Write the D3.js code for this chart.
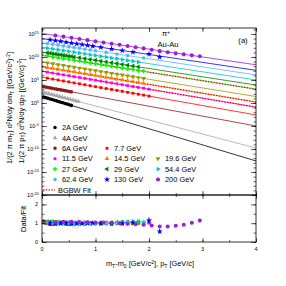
<!DOCTYPE html>
<html>
<head>
<meta charset="utf-8">
<script src="https://cdn.jsdelivr.net/npm/d3@7"></script>
<style>
body{margin:0;background:#fff}
text{font-family:"Liberation Sans",Arial,sans-serif;fill:#000}
</style>
</head>
<body>
<svg id="c" width="286" height="286"></svg>
<script>
// pi+ spectra in Au-Au, log10 of the invariant yield vs mT-m0, and data/fit below

var labels = ["2A GeV","4A GeV","6A GeV","7.7 GeV","11.5 GeV","14.5 GeV","19.6 GeV","27 GeV","29 GeV","54.4 GeV","62.4 GeV","130 GeV","200 GeV"];
var colors = ["#000000","#a6a6a6","#8b1c1c","#ff0000","#ff00ff","#ff8000","#999900","#00ff00","#008000","#00c8c8","#55b4ff","#0000ff","#9a1ed2"];

// fit lines, log10 value at mT-m0 = 0 and at 4
var fitLeft  = [1.4, 2.4, 3.6, 5.6, 6.9, 7.9, 8.9, 10.4, 11.1, 12.1, 13.1, 14.0, 15.1];
var fitRight = [-12.6, -9.8, -5.0, -2.6, -0.9, 0.2, 1.4, 3.0, 3.9, 5.0, 6.1, 7.1, 8.3];
// BGBW fits (red dotted)
var bgbwLeft  = [10.4, 7.9, 6.9];
var bgbwRight = [3.0, 0.2, -0.9];

var pt2A = [0.03,0.07,0.11,0.15,0.19,0.23,0.27,0.31,0.35,0.39,0.43,0.47,0.51,0.55];
var sp2A = [1.30,1.16,1.02,0.88,0.74,0.60,0.46,0.32,0.18,0.04,-0.10,-0.24,-0.38,-0.52];
var ra2A = [1.04,1.01,0.98,0.97,0.98,1.00,1.02,1.02,1.00,0.98,0.97,0.98,1.01,1.03];

var pt4A = [0.03,0.08,0.13,0.18,0.23,0.28,0.33,0.38,0.43,0.48,0.53,0.58,0.63,0.68];
var sp4A = [2.31,2.16,2.00,1.85,1.70,1.55,1.39,1.24,1.09,0.94,0.78,0.63,0.48,0.33];
var ra4A = [1.06,1.03,1.00,0.98,0.99,1.01,1.03,1.02,1.00,0.97,0.95,0.92,0.96,1.02];
var er4A = [0.03,0.03,0.03,0.03,0.03,0.04,0.04,0.05,0.06,0.08,0.12,0.20,0.25,0.30];

var pt6A = [0.03,0.07,0.11,0.15,0.19,0.23,0.27,0.31,0.35,0.39,0.43,0.47,0.51,0.55];
var sp6A = [3.54,3.45,3.36,3.28,3.19,3.11,3.02,2.93,2.85,2.76,2.68,2.59,2.50,2.42];
var ra6A = [1.12,1.08,1.01,0.95,0.93,0.94,0.97,1.00,1.02,1.01,0.98,0.95,0.94,0.96];

var pt77 = [0.1,0.2,0.3,0.4,0.5,0.6,0.7,0.8,0.9,1.0,1.1,1.2,1.3,1.4,1.5,1.6,1.7,1.8,1.9,2.0];
var sp77 = [5.40,5.19,4.99,4.78,4.58,4.37,4.17,3.96,3.76,3.55,3.35,3.14,2.94,2.73,2.53,2.32,2.12,1.91,1.71,1.50];
var ra77 = [1.04,1.02,0.99,1.00,1.02,1.03,1.01,0.99,1.00,1.02,1.01,0.99,0.98,1.00,1.01,1.03,1.01,0.99,0.98,1.01];

var pt115 = [0.1,0.2,0.3,0.4,0.5,0.6,0.7,0.8,0.9,1.0,1.1,1.2,1.3,1.4,1.5,1.6,1.7,1.8,1.9,2.0];
var sp115 = [6.71,6.51,6.32,6.12,5.93,5.73,5.54,5.34,5.15,4.95,4.76,4.56,4.37,4.17,3.98,3.78,3.59,3.39,3.20,3.00];
var ra115 = [1.06,1.04,1.05,1.07,1.06,1.05,1.04,1.06,1.05,1.04,1.03,1.05,1.04,1.02,1.03,1.04,1.02,1.01,1.03,1.02];

var pt145 = [0.1,0.2,0.3,0.4,0.5,0.6,0.7,0.8,0.9,1.0,1.1,1.2,1.3,1.4,1.5,1.6,1.7,1.8,1.9];
var sp145 = [7.71,7.52,7.32,7.13,6.94,6.75,6.55,6.36,6.17,5.98,5.78,5.59,5.40,5.21,5.01,4.82,4.63,4.44,4.24];
var ra145 = [1.03,1.01,1.02,1.03,1.02,1.00,1.01,1.02,1.00,0.99,1.01,1.00,0.99,1.00,1.01,0.99,0.98,1.00,1.01];

var pt196 = [0.1,0.2,0.3,0.4,0.5,0.6,0.7,0.8,0.9,1.0,1.1,1.2,1.3,1.4,1.5,1.6,1.7,1.8,1.9];
var sp196 = [8.71,8.53,8.34,8.15,7.96,7.78,7.59,7.40,7.21,7.03,6.84,6.65,6.46,6.28,6.09,5.90,5.71,5.53,5.34];
var ra196 = [1.02,1.00,0.99,1.01,1.02,1.01,1.00,0.99,1.00,1.01,1.00,0.99,1.00,1.01,1.00,0.99,1.00,1.02,1.01];

var pt27 = [0.1,0.2,0.3,0.4,0.5,0.6,0.7,0.8,0.9,1.0,1.1,1.2,1.3,1.4,1.5,1.6,1.7,1.8,1.9];
var sp27 = [10.22,10.03,9.85,9.66,9.48,9.29,9.11,8.92,8.74,8.55,8.37,8.18,8.00,7.81,7.63,7.44,7.26,7.07,6.89];
var ra27 = [1.05,1.08,1.06,1.04,1.02,1.00,0.99,1.00,1.01,1.00,0.99,0.98,1.00,1.01,1.02,1.03,1.04,1.05,1.06];

var pt29 = [0.1,0.15,0.2,0.25,0.3,0.35,0.4,0.45,0.5,0.55,0.6,0.7,0.8,0.9,1.0,1.1,1.2,1.3,1.4,1.5,1.6,1.7,1.8];
var sp29 = [10.92,10.83,10.74,10.65,10.56,10.47,10.38,10.29,10.20,10.11,10.02,9.84,9.66,9.48,9.30,9.12,8.94,8.76,8.58,8.40,8.22,8.04,7.86];
var ra29 = [1.08,1.07,1.06,1.05,1.04,1.03,1.02,1.02,1.01,1.00,1.00,0.99,0.98,0.99,1.00,1.01,1.02,1.03,1.04,1.05,1.06,1.07,1.08];

var pt544 = [0.1,0.2,0.3,0.4,0.5,0.6,0.7,0.8,0.9,1.0,1.1,1.2,1.3,1.4,1.5,1.6,1.7,1.8];
var sp544 = [11.92,11.75,11.57,11.39,11.21,11.04,10.86,10.68,10.50,10.33,10.15,9.97,9.79,9.62,9.44,9.26,9.08,8.91];
var ra544 = [1.04,1.03,1.02,1.01,1.00,1.00,1.01,1.02,1.01,1.00,0.99,1.00,1.01,1.03,1.05,1.07,1.09,1.10];

var pt624 = [0.1,0.2,0.3,0.4,0.5,0.6,0.7,0.8,0.9,1.0,1.2,1.4,1.6,1.9];
var sp624 = [12.93,12.75,12.58,12.40,12.23,12.05,11.88,11.70,11.53,11.35,11.00,10.65,10.30,9.78];
var ra624 = [1.03,1.02,1.01,1.00,1.01,1.02,1.01,1.00,0.99,1.00,1.01,1.02,1.04,1.06];

var pt130 = [0.15,0.25,0.35,0.45,0.55,0.65,0.75,0.85,0.95,1.1,1.3,1.5,1.7,2.0,2.2];
var sp130 = [13.74,13.57,13.40,13.22,13.05,12.88,12.71,12.53,12.36,12.10,11.76,11.41,11.07,10.63,9.99];
var ra130 = [1.00,0.98,0.99,1.01,1.00,0.99,0.98,1.00,1.01,0.99,0.97,0.98,1.02,1.14,0.56];
var er130 = [0.03,0.03,0.03,0.03,0.03,0.03,0.03,0.03,0.04,0.04,0.05,0.06,0.08,0.16,0.12];

var pt200 = [0.25,0.4,0.55,0.7,0.85,1.0,1.15,1.3,1.45,1.6,1.75,1.9,2.05,2.2,2.35,2.5,2.65,2.8,2.95];
var sp200 = [14.68,14.42,14.17,13.91,13.66,13.40,13.15,12.89,12.64,12.38,12.13,11.87,11.57,11.27,11.02,10.79,10.57,10.35,10.15];
var ra200 = [1.05,1.07,1.08,1.06,1.05,1.04,1.03,1.02,1.00,0.97,0.94,0.92,0.88,0.82,0.82,0.86,0.92,1.02,1.14];
var er200 = [0.03,0.03,0.03,0.03,0.03,0.03,0.03,0.03,0.03,0.03,0.03,0.04,0.04,0.04,0.05,0.05,0.06,0.08,0.10];

var majorLog = [-20,-15,-10,-5,0,5,10,15];
var xTicks = [0,1,2,3,4];
var ratioTicks = [0,1,2];

var sym = [
  {t: d3.symbolCircle, r: 0, s: 10},
  {t: d3.symbolTriangle, r: 0, s: 10},
  {t: d3.symbolCircle, r: 0, s: 10},
  {t: d3.symbolSquare, r: 0, s: 8},
  {t: d3.symbolSquare, r: 0, s: 8},
  {t: d3.symbolTriangle, r: 0, s: 10},
  {t: d3.symbolTriangle, r: 180, s: 10},
  {t: d3.symbolCross, r: 0, s: 11},
  {t: d3.symbolTriangle, r: -90, s: 10},
  {t: d3.symbolTriangle, r: 90, s: 10},
  {t: d3.symbolCircle, r: 0, s: 10},
  {t: d3.symbolStar, r: 0, s: 12},
  {t: d3.symbolCircle, r: 0, s: 13}
];

var pts = [pt2A,pt4A,pt6A,pt77,pt115,pt145,pt196,pt27,pt29,pt544,pt624,pt130,pt200];
var sps = [sp2A,sp4A,sp6A,sp77,sp115,sp145,sp196,sp27,sp29,sp544,sp624,sp130,sp200];
var ras = [ra2A,ra4A,ra6A,ra77,ra115,ra145,ra196,ra27,ra29,ra544,ra624,ra130,ra200];
var ers = [null,er4A,null,null,null,null,null,null,null,null,null,er130,er200];

var svg = d3.select('#c');
var x = d3.scaleLinear().domain([0,4]).range([42,256]);
var yTop = d3.scaleLinear().domain([-20,16.3]).range([195,28]);
var yBot = d3.scaleLinear().domain([0,2.5]).range([242,195]);

svg.append('clipPath').attr('id','clipTop').append('rect')
  .attr('x',42).attr('y',28).attr('width',214).attr('height',167);

// fit lines
var gFit = svg.append('g').attr('clip-path','url(#clipTop)');
var fitLine = d3.line().x(function(d){ return x(d[0]); }).y(function(d){ return yTop(d[1]); });
labels.forEach(function(l,i){
  gFit.append('path')
    .attr('d', fitLine([[0,fitLeft[i]],[4,fitRight[i]]]))
    .attr('fill','none').attr('stroke',colors[i]).attr('stroke-width',0.8);
});
bgbwLeft.forEach(function(v,i){
  gFit.append('path')
    .attr('d', fitLine([[0,v],[4,bgbwRight[i]]]))
    .attr('fill','none').attr('stroke','#ff0000').attr('stroke-width',1.3)
    .attr('stroke-dasharray','1.4,1.4');
});

function marker(i){
  return d3.symbol().type(sym[i].t).size(sym[i].s)();
}

// spectra points
labels.forEach(function(l,i){
  svg.append('g').selectAll('path')
    .data(pts[i].map(function(p,k){ return [p, sps[i][k]]; }))
    .enter().append('path')
    .attr('d', marker(i))
    .attr('transform', function(d){ return 'translate(' + x(d[0]) + ',' + yTop(d[1]) + ') rotate(' + sym[i].r + ')'; })
    .attr('fill', colors[i]);
});

// ratio points
labels.forEach(function(l,i){
  var d0 = pts[i].map(function(p,k){ return [p, ras[i][k], ers[i] ? ers[i][k] : 0]; });
  var g = svg.append('g');
  g.selectAll('line').data(d0.filter(function(d){ return d[2] > 0.035; }))
    .enter().append('line')
    .attr('x1', function(d){ return x(d[0]); }).attr('x2', function(d){ return x(d[0]); })
    .attr('y1', function(d){ return yBot(d[1]-d[2]); }).attr('y2', function(d){ return yBot(d[1]+d[2]); })
    .attr('stroke', i == 1 ? '#b0b0b0' : colors[i]).attr('stroke-width',0.6);
  g.selectAll('path').data(d0).enter().append('path')
    .attr('d', marker(i))
    .attr('transform', function(d){ return 'translate(' + x(d[0]) + ',' + yBot(d[1]) + ') rotate(' + sym[i].r + ')'; })
    .attr('fill', colors[i]);
});

// frames
svg.append('rect').attr('x',42).attr('y',28).attr('width',214).attr('height',167)
  .attr('fill','none').attr('stroke','#000').attr('stroke-width',0.8);
svg.append('rect').attr('x',42).attr('y',195).attr('width',214).attr('height',47)
  .attr('fill','none').attr('stroke','#000').attr('stroke-width',0.8);

function ticks(g, axis){
  g.call(axis);
  g.select('.domain').remove();
  g.selectAll('line').attr('stroke','#000').attr('stroke-width',0.6);
}

var decades = d3.range(-20,17);
// top panel y ticks
ticks(svg.append('g').attr('transform','translate(42,0)'), d3.axisLeft(yTop).tickValues(majorLog).tickSize(-5).tickFormat(''));
ticks(svg.append('g').attr('transform','translate(42,0)'), d3.axisLeft(yTop).tickValues(decades).tickSize(-2.5).tickFormat(''));
ticks(svg.append('g').attr('transform','translate(256,0)'), d3.axisRight(yTop).tickValues(majorLog).tickSize(-5).tickFormat(''));
ticks(svg.append('g').attr('transform','translate(256,0)'), d3.axisRight(yTop).tickValues(decades).tickSize(-2.5).tickFormat(''));
// x ticks
var xMinor = d3.range(0,4.01,0.5);
[[28,d3.axisTop],[195,d3.axisBottom],[195,d3.axisTop],[242,d3.axisBottom]].forEach(function(a){
  ticks(svg.append('g').attr('transform','translate(0,' + a[0] + ')'), a[1](x).tickValues(xTicks).tickSize(-4).tickFormat(''));
  ticks(svg.append('g').attr('transform','translate(0,' + a[0] + ')'), a[1](x).tickValues(xMinor).tickSize(-2).tickFormat(''));
});
// ratio y ticks
var rMinor = d3.range(0,2.51,0.5);
ticks(svg.append('g').attr('transform','translate(42,0)'), d3.axisLeft(yBot).tickValues(ratioTicks).tickSize(-5).tickFormat(''));
ticks(svg.append('g').attr('transform','translate(42,0)'), d3.axisLeft(yBot).tickValues(rMinor).tickSize(-2.5).tickFormat(''));
ticks(svg.append('g').attr('transform','translate(256,0)'), d3.axisRight(yBot).tickValues(ratioTicks).tickSize(-5).tickFormat(''));
ticks(svg.append('g').attr('transform','translate(256,0)'), d3.axisRight(yBot).tickValues(rMinor).tickSize(-2.5).tickFormat(''));

// tick labels
majorLog.forEach(function(v){
  var t = svg.append('text').attr('x',39).attr('y',yTop(v)+2).attr('text-anchor','end').style('font-size','5.5px');
  t.append('tspan').text('10');
  t.append('tspan').attr('dy',-2.3).style('font-size','4px').text(v);
});
ratioTicks.forEach(function(v){
  svg.append('text').attr('x',38).attr('y',yBot(v)+2).attr('text-anchor','end').style('font-size','5.5px').text(v);
});
xTicks.forEach(function(v){
  svg.append('text').attr('x',x(v)).attr('y',251).attr('text-anchor','middle').style('font-size','5.5px').text(v);
});

// axis titles
var t1 = svg.append('text').attr('transform','translate(12,108) rotate(-90)').attr('text-anchor','middle').style('font-size','7.4px');
t1.append('tspan').text('1/(2 \u03c0 m');
t1.append('tspan').attr('dy',1.5).style('font-size','5px').text('T');
t1.append('tspan').attr('dy',-1.5).text(') d');
t1.append('tspan').attr('dy',-2.5).style('font-size','5px').text('2');
t1.append('tspan').attr('dy',2.5).text('N/dy dm');
t1.append('tspan').attr('dy',1.5).style('font-size','5px').text('T');
t1.append('tspan').attr('dy',-1.5).text(' [(GeV/c');
t1.append('tspan').attr('dy',-2.5).style('font-size','5px').text('2');
t1.append('tspan').attr('dy',2.5).text(')');
t1.append('tspan').attr('dy',-2.5).style('font-size','5px').text('-2');
t1.append('tspan').attr('dy',2.5).text(']');

var t2 = svg.append('text').attr('transform','translate(23.5,111) rotate(-90)').attr('text-anchor','middle').style('font-size','7.4px');
t2.append('tspan').text('1/(2 \u03c0 p');
t2.append('tspan').attr('dy',1.5).style('font-size','5px').text('T');
t2.append('tspan').attr('dy',-1.5).text(') d');
t2.append('tspan').attr('dy',-2.5).style('font-size','5px').text('2');
t2.append('tspan').attr('dy',2.5).text('N/dy dp');
t2.append('tspan').attr('dy',1.5).style('font-size','5px').text('T');
t2.append('tspan').attr('dy',-1.5).text(' [(GeV/c)');
t2.append('tspan').attr('dy',-2.5).style('font-size','5px').text('-2');
t2.append('tspan').attr('dy',2.5).text(']');

svg.append('text').attr('transform','translate(25.5,219) rotate(-90)').attr('text-anchor','middle').style('font-size','7.4px').text('Data/Fit');

var tx = svg.append('text').attr('x',150).attr('y',266).attr('text-anchor','middle').style('font-size','7.4px');
tx.append('tspan').text('m');
tx.append('tspan').attr('dy',1.5).style('font-size','5px').text('T');
tx.append('tspan').attr('dy',-1.5).text('-m');
tx.append('tspan').attr('dy',1.5).style('font-size','5px').text('0');
tx.append('tspan').attr('dy',-1.5).text(' [GeV/c');
tx.append('tspan').attr('dy',-2.5).style('font-size','5px').text('2');
tx.append('tspan').attr('dy',2.5).text('],  p');
tx.append('tspan').attr('dy',1.5).style('font-size','5px').text('T');
tx.append('tspan').attr('dy',-1.5).text(' [GeV/c]');

// labels in the top panel
var tp = svg.append('text').attr('x',166).attr('y',36).attr('text-anchor','middle').style('font-size','7.4px');
tp.append('tspan').text('\u03c0');
tp.append('tspan').attr('dy',-2.5).style('font-size','5px').text('+');
svg.append('text').attr('x',168).attr('y',47).attr('text-anchor','middle').style('font-size','7.6px').text('Au-Au');
svg.append('text').attr('x',243).attr('y',43).attr('text-anchor','middle').style('font-size','7.6px').text('(a)');

// legend
var legRow = [0,1,2,2,3,3,3,4,4,4,5,5,5];
var legCol = [0,0,0,1,0,1,2,0,1,2,0,1,2];
var colX = [55,107,158];
var rowY = d3.range(7).map(function(r){ return 127.5 + r * 10.4; });
labels.forEach(function(l,i){
  var cx = colX[legCol[i]], cy = rowY[legRow[i]];
  svg.append('path').attr('d', marker(i))
    .attr('transform','translate(' + cx + ',' + cy + ') rotate(' + sym[i].r + ')')
    .attr('fill', colors[i]);
  svg.append('text').attr('x', cx + 7).attr('y', cy + 2.6).style('font-size','7.4px').text(l);
});
svg.append('line').attr('x1',43).attr('x2',55).attr('y1',rowY[6]).attr('y2',rowY[6])
  .attr('stroke','#ff0000').attr('stroke-width',1.3).attr('stroke-dasharray','1.4,1.4');
svg.append('text').attr('x',58).attr('y',rowY[6]+2.6).style('font-size','7.4px').text('BGBW Fit');
</script>
</body>
</html>
